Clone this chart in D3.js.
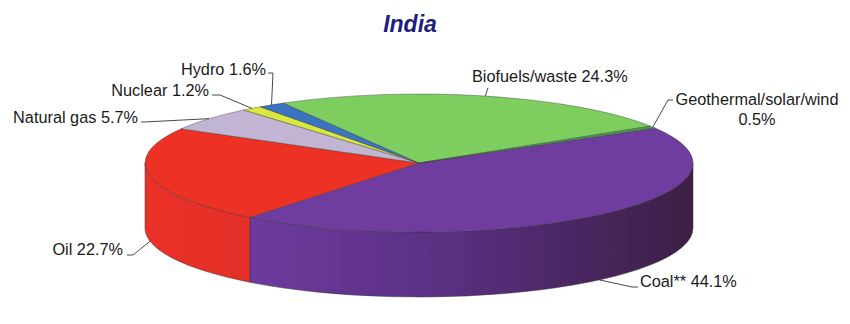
<!DOCTYPE html>
<html><head><meta charset="utf-8">
<script src="https://cdn.jsdelivr.net/npm/d3@7"></script>
<style>body{margin:0;background:#fff}svg{display:block}</style>
</head><body>
<svg id="c" width="850" height="324"></svg>
<script>
const title = "India";
const categories = ["Coal**", "Oil", "Natural gas", "Nuclear", "Hydro", "Biofuels/waste", "Geothermal/solar/wind"];
const values = [44.1, 22.7, 5.7, 1.2, 1.6, 24.3, 0.5];
const topColors = ["#6f3ca0", "#ee3125", "#c2b5d3", "#d9e83c", "#3a73bf", "#7dce5f", "#4a9e44"];

// layout (not data)
const cx = 419, cy = 163, rx = 274, ry = 69, depth = 65;
const startDeg = 59.5; // pie angle (clockwise from 12 o'clock) where first slice begins
const labelLayout = {
  "Coal**":               {elbow:[632,287], end:[638,287], tx:640, ty:287, anchor:"start"},
  "Oil":                  {elbow:[133,255], end:[127,255], tx:123, ty:255, anchor:"end"},
  "Natural gas":          {elbow:[144,122], end:[141,122], tx:138, ty:123, anchor:"end"},
  "Nuclear":              {elbow:[220,95],  end:[212,95],  tx:209, ty:96,  anchor:"end"},
  "Hydro":                {elbow:[273,73],  end:[268,73],  tx:266, ty:75,  anchor:"end"},
  "Biofuels/waste":       {elbow:[488,88],  end:[488,88],  tx:472, ty:82,  anchor:"start"},
  "Geothermal/solar/wind":{elbow:[668,100], end:[673,100], tx:757, ty:105, anchor:"middle", split:true}
};

const svg = d3.select("#c");
const data = categories.map((c,i)=>({cat:c, value:values[i], color:topColors[i]}));
const pie = d3.pie().sort(null).value(d=>d.value)
  .startAngle(startDeg*Math.PI/180).endAngle(startDeg*Math.PI/180 + 2*Math.PI);
const arcs = pie(data);

const th = a => a - Math.PI/2;           // pie angle -> screen param angle
const px = t => cx + rx*Math.cos(t);
const py = (t,off=0) => cy + ry*Math.sin(t) + off;

// gradient for coal side
const defs = svg.append("defs");
const g1 = defs.append("linearGradient").attr("id","coalSide").attr("gradientUnits","userSpaceOnUse")
  .attr("x1",248).attr("x2",cx+rx).attr("y1",0).attr("y2",0);
g1.append("stop").attr("offset",0).attr("stop-color","#6d3b9e");
g1.append("stop").attr("offset",0.45).attr("stop-color","#5a2f82");
g1.append("stop").attr("offset",1).attr("stop-color","#3c1f44");
const g2 = defs.append("linearGradient").attr("id","oilSide").attr("gradientUnits","userSpaceOnUse")
  .attr("x1",cx-rx).attr("x2",248).attr("y1",0).attr("y2",0);
g2.append("stop").attr("offset",0).attr("stop-color","#ea3128");
g2.append("stop").attr("offset",1).attr("stop-color","#e32f28");
const sideFill = {"Coal**":"url(#coalSide)", "Oil":"url(#oilSide)"};

// side walls (front half: screen angle in [0, PI])
const sides = svg.append("g");
arcs.forEach(a=>{
  let t1 = th(a.startAngle), t2 = th(a.endAngle);
  // normalise into range so visible window checks work
  for (const shift of [-2*Math.PI, 0, 2*Math.PI]) {
    const s1 = Math.max(t1+shift, 0), s2 = Math.min(t2+shift, Math.PI);
    if (s2 > s1) {
      const large = (s2-s1) > Math.PI ? 1 : 0;
      const p = `M${px(s1)},${py(s1)} A${rx},${ry} 0 ${large} 1 ${px(s2)},${py(s2)} L${px(s2)},${py(s2,depth)} A${rx},${ry} 0 ${large} 0 ${px(s1)},${py(s1,depth)} Z`;
      sides.append("path").attr("d",p)
        .attr("fill", sideFill[a.data.cat] || d3.color(a.data.color).darker(0.8))
        .attr("stroke","#3a2a3a").attr("stroke-width",0.7).attr("stroke-opacity",0.7);
    }
  }
});

// top faces
const tops = svg.append("g");
arcs.forEach(a=>{
  const t1 = th(a.startAngle), t2 = th(a.endAngle);
  const large = (t2-t1) > Math.PI ? 1 : 0;
  const p = `M${cx},${cy} L${px(t1)},${py(t1)} A${rx},${ry} 0 ${large} 1 ${px(t2)},${py(t2)} Z`;
  tops.append("path").attr("d",p).attr("fill",a.data.color)
    .attr("stroke","#333").attr("stroke-width",0.7).attr("stroke-opacity",0.55)
    .attr("stroke-linejoin","round");
});

// labels and leaders
const lab = svg.append("g").attr("font-family","'Liberation Sans', Arial, sans-serif")
  .attr("font-size","16.3px").attr("fill","#1a1a1a");
arcs.forEach(a=>{
  const L = labelLayout[a.data.cat];
  const tm = th((a.startAngle+a.endAngle)/2);
  const front = Math.sin(tm) > 0;
  const anchorPt = [px(tm), py(tm, front ? depth : 0)];
  const pts = [anchorPt, L.elbow, L.end];
  lab.append("path").attr("d", d3.line()(pts)).attr("fill","none")
    .attr("stroke","#333").attr("stroke-width",0.9);
  const txt = `${a.data.cat} ${a.data.value.toFixed(1)}%`;
  if (L.split) {
    const t = lab.append("text").attr("text-anchor",L.anchor);
    t.append("tspan").attr("x",L.tx).attr("y",L.ty).text(a.data.cat);
    t.append("tspan").attr("x",L.tx).attr("y",L.ty+20).text(`${a.data.value.toFixed(1)}%`);
  } else {
    lab.append("text").attr("x",L.tx).attr("y",L.ty).attr("text-anchor",L.anchor).text(txt);
  }
});

svg.append("text").attr("x",410).attr("y",32).attr("text-anchor","middle")
  .attr("font-family","'Liberation Sans', Arial, sans-serif").attr("font-size","23px")
  .attr("font-weight","bold").attr("font-style","italic").attr("fill","#1d1d7d").text(title);
</script>
</body></html>
